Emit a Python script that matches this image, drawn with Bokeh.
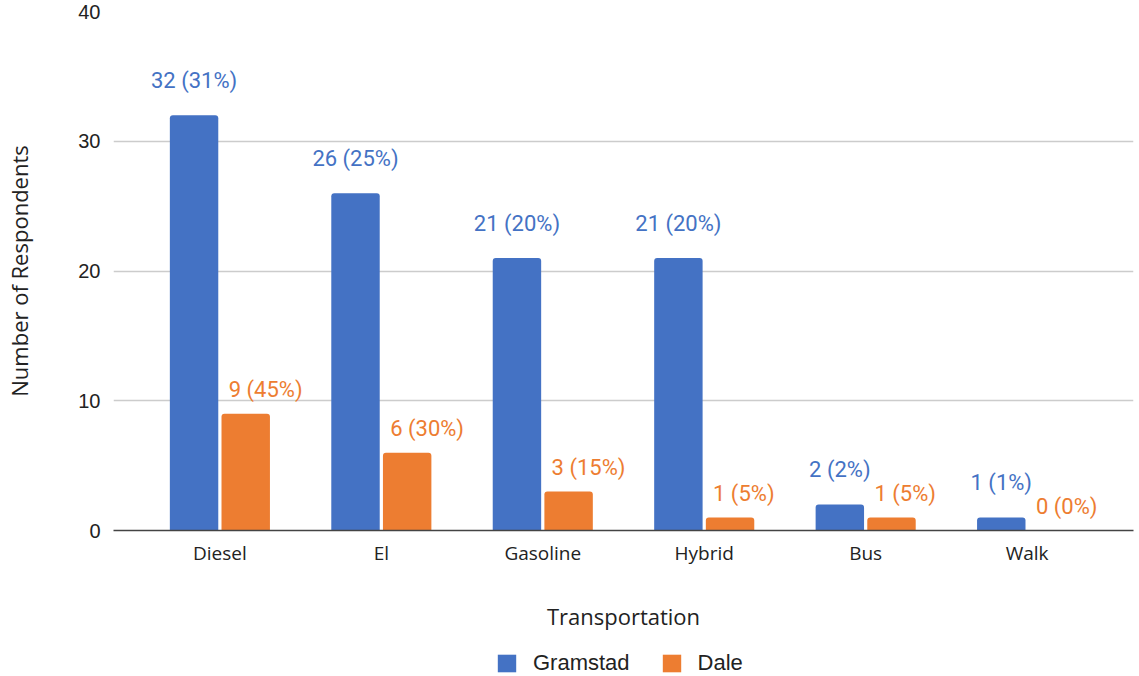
from bokeh.plotting import figure
from bokeh.models import FactorRange, Range1d, ColumnDataSource, Legend, LegendItem
from bokeh.transform import dodge
from bokeh.core.properties import value
from bokeh.layouts import column
from bokeh.embed import file_html
from bokeh.resources import INLINE

categories = ["Diesel", "El", "Gasoline", "Hybrid", "Bus", "Walk"]
gramstad = [32, 26, 21, 21, 2, 1]
dale = [9, 6, 3, 1, 1, 0]
gramstad_pct = [31, 25, 20, 20, 2, 1]
dale_pct = [45, 30, 15, 5, 5, 0]
series_names = ["Gramstad", "Dale"]
y_ticks = [0, 10, 20, 30, 40]

BLUE = "#4472C4"
ORANGE = "#ED7D31"

src = ColumnDataSource(dict(
    cat=categories,
    g=gramstad,
    d=dale,
    g_lab=[f"{v} ({p}%)" for v, p in zip(gramstad, gramstad_pct)],
    d_lab=[f"{v} ({p}%)" for v, p in zip(dale, dale_pct)],
))

p = figure(
    frame_width=1020, frame_height=519,
    x_range=FactorRange(*categories, range_padding=0.053),
    y_range=Range1d(0, 40),
    output_backend="svg", toolbar_location=None,
    min_border_left=113, min_border_right=6, min_border_top=11,
    min_border_bottom=115,
)
p.outline_line_color = None
p.background_fill_color = "white"
p.border_fill_color = "white"

rg = p.vbar(x=dodge("cat", -0.16, range=p.x_range), top="g", width=0.3, source=src,
            fill_color=BLUE, line_color=None, border_radius=(3, 3, 0, 0))
rd = p.vbar(x=dodge("cat", 0.16, range=p.x_range), top="d", width=0.3, source=src,
            fill_color=ORANGE, line_color=None, border_radius=(3, 3, 0, 0))

p.text(x=dodge("cat", -0.16, range=p.x_range), y="g", text="g_lab", source=src,
       text_align="center", text_baseline="middle", y_offset=-35,
       text_color=BLUE, text_font=value("Roboto"), text_font_size="22px")
p.text(x=dodge("cat", 0.16, range=p.x_range), y="d", text="d_lab", source=src,
       text_align="left", text_baseline="middle", x_offset=-17, y_offset=-24,
       text_color=ORANGE, text_font=value("Roboto"), text_font_size="22px")

# y axis
p.yaxis.ticker = y_ticks
p.yaxis.axis_line_color = None
p.yaxis.major_tick_line_color = None
p.yaxis.minor_tick_line_color = None
p.yaxis.major_label_standoff = 7
p.yaxis.major_label_text_font = "Liberation Sans"
p.yaxis.major_label_text_font_size = "20px"
p.yaxis.major_label_text_color = "#222222"
p.yaxis.axis_label = "Number of Respondents"
p.yaxis.axis_label_text_font = "Open Sans"
p.yaxis.axis_label_text_font_style = "normal"
p.yaxis.axis_label_text_font_size = "22px"
p.yaxis.axis_label_text_color = "#222222"
p.yaxis.axis_label_standoff = 41

# x axis
p.xaxis.axis_line_color = "#444444"
p.xaxis.axis_line_width = 1.5
p.xaxis.major_tick_line_color = None
p.xaxis.minor_tick_line_color = None
p.xaxis.major_label_standoff = 3
p.xaxis.major_label_text_font = "Open Sans"
p.xaxis.major_label_text_font_size = "19px"
p.xaxis.major_label_text_color = "#222222"
p.xaxis.axis_label = "Transportation"
p.xaxis.axis_label_text_font = "Open Sans"
p.xaxis.axis_label_text_font_style = "normal"
p.xaxis.axis_label_text_font_size = "22px"
p.xaxis.axis_label_text_color = "#222222"
p.xaxis.axis_label_standoff = 32

p.xgrid.grid_line_color = None
p.ygrid.grid_line_color = "#cccccc"
p.ygrid.grid_line_width = 1.5

# legend strip below the chart (proxy renderers are hidden; legend only)
p2 = figure(
    frame_width=1139, frame_height=31,
    x_range=Range1d(0, 1), y_range=Range1d(0, 1),
    x_axis_type=None, y_axis_type=None,
    output_backend="svg", toolbar_location=None,
    min_border=0,
)
p2.outline_line_color = None
p2.xgrid.grid_line_color = None
p2.ygrid.grid_line_color = None
lg = p2.vbar(x="g", top="g", width=0.1, source=src, fill_color=BLUE,
             line_color=None, visible=False)
ld = p2.vbar(x="d", top="d", width=0.1, source=src, fill_color=ORANGE,
             line_color=None, visible=False)

legend = Legend(
    items=[LegendItem(label=series_names[0], renderers=[lg]),
           LegendItem(label=series_names[1], renderers=[ld])],
    orientation="horizontal", location=(495, 0),
    glyph_width=23, glyph_height=22, label_standoff=15, spacing=30,
    label_text_font="Liberation Sans", label_text_font_size="22px",
    label_text_color="#222222", border_line_color=None,
    background_fill_alpha=0, padding=0, margin=0,
)
p2.add_layout(legend, "center")

layout = column(p, p2, spacing=0)
open("out.html", "w").write(file_html(layout, INLINE))
